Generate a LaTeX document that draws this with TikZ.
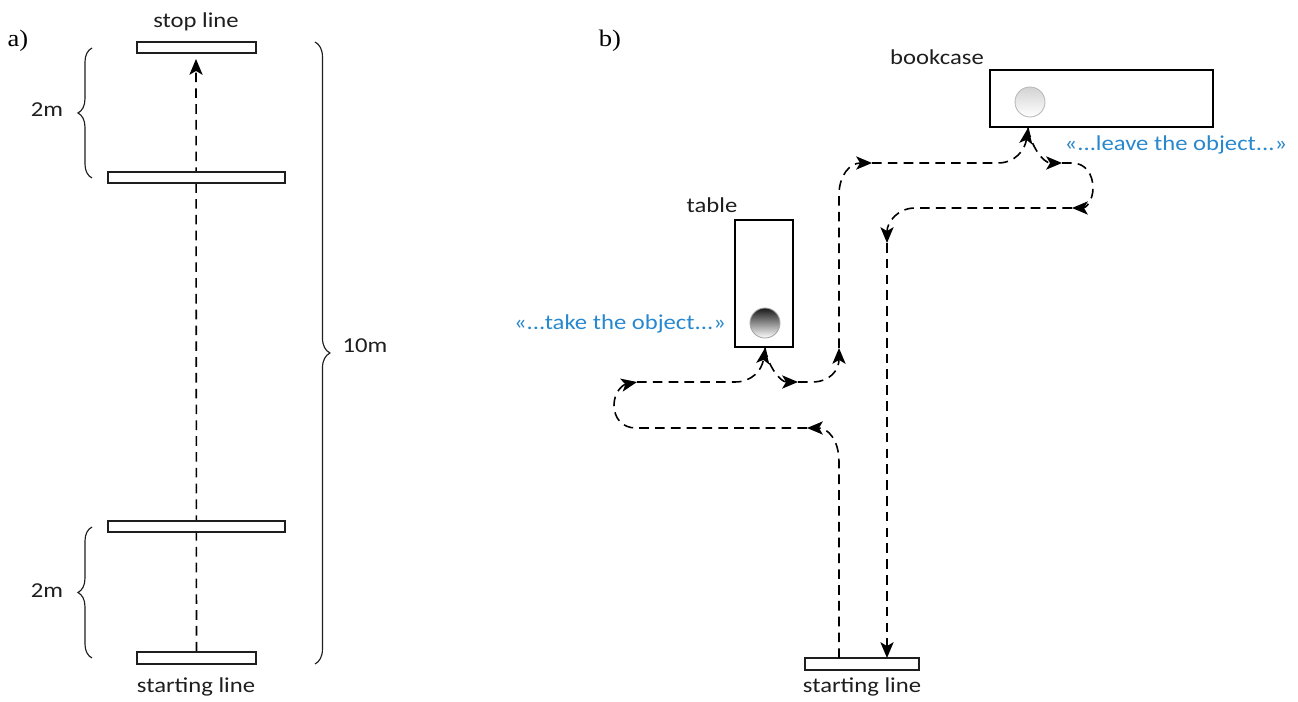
\documentclass[tikz,border=0pt]{standalone}
\usepackage{fontspec}
\setmainfont{Liberation Serif}
\newfontfamily\labfont[FakeStretch=1.16]{Carlito}
\newfontfamily\panfont[FakeStretch=1.12]{Liberation Serif}
\usetikzlibrary{arrows.meta,decorations.pathreplacing,backgrounds}
\definecolor{inkgray}{RGB}{30,30,30}
\definecolor{quoteblue}{RGB}{40,136,206}
\tikzset{
  lab/.style={font=\labfont\fontsize{12.1}{14}\selectfont, text=inkgray, inner sep=0pt, anchor=base},
  quote/.style={lab, text=quoteblue},
  panel/.style={font=\panfont\fontsize{13.5}{15}\selectfont, inner sep=0pt, anchor=base},
  bar/.style={draw=inkgray, fill=white, line width=0.65pt, rectangle, inner sep=0pt, minimum height=0.22cm},
  furn/.style={draw=black, fill=white, line width=0.65pt, rectangle, inner sep=0pt},
  ball/.style={circle, inner sep=0pt, minimum size=0.6cm, line width=0.5pt, shading angle=45},
  walk/.style={line width=0.9pt, dash pattern=on 5.5pt off 3.5pt, -{Stealth[length=9pt,width=7.5pt,inset=2.2pt]}},
  curly/.style={draw=inkgray, line width=0.65pt, decorate},
}
\begin{document}
\begin{tikzpicture}[x=0.02cm, y=-0.02cm]
\useasboundingbox (0,0) rectangle (1298,702);

% ---------- a) straight walk ----------
\node[panel] (la) at (18,47) {a)};
\node[bar, minimum width=2.38cm] (stopbar) at (196.5,47.5) {};
\node[bar, minimum width=3.54cm] (upperbar) at (196.5,177.5) {};
\node[bar, minimum width=3.54cm] (lowerbar) at (196.5,526.5) {};
\node[bar, minimum width=2.38cm, minimum height=0.24cm] (startbara) at (196.5,658) {};
\node[lab] (stoplab) at (196,28) {stop line};
\node[lab] (startlaba) at (196,692) {starting line};

\coordinate (aend) at (196,59);
\begin{scope}[on background layer]
  \draw[walk] (startbara.north) -- (aend);
\end{scope}

% distance braces
\draw[curly, decoration={brace, amplitude=8pt}] (92,178) -- (92,48);
\draw[curly, decoration={brace, amplitude=8pt}] (92,658) -- (92,527);
\draw[curly, decoration={brace, amplitude=8.5pt}] (315,42) -- (315,664);
\node[lab] (d1) at (47,117) {2m};
\node[lab] (d2) at (47,597) {2m};
\node[lab] (d3) at (365,353) {10m};

% ---------- b) walk with object transfer ----------
\node[panel] (lb) at (610,47) {b)};
\node[furn, minimum width=4.46cm, minimum height=1.14cm] (bookcase) at (1101.5,98.5) {};
\node[furn, minimum width=1.16cm, minimum height=2.54cm] (table) at (764,283.5) {};
\node[bar, minimum width=2.28cm, minimum height=0.24cm] (startbarb) at (862,664) {};
\node[ball, draw=gray!70, top color=gray!20!black, bottom color=white] (objtable) at (765,323) {};
\node[ball, draw=gray!55, top color=gray!35, bottom color=white] (objshelf) at (1030,102) {};

\node[lab] (booklab) at (937,65) {bookcase};
\node[lab] (tablelab) at (712,213) {table};
\node[lab] (startlabb) at (862,692) {starting line};
\node[quote] (leave) at (1176,151) {«...leave the object...»};
\node[quote] (take) at (620,330) {«...take the object...»};

% way points of the route
\coordinate (w1) at (839,658);
\coordinate (w2) at (807,428);
\coordinate (w3) at (637,382);
\coordinate (tb) at (765,348);
\coordinate (w4) at (798,382);
\coordinate (w5) at (839,348);
\coordinate (w6) at (872,163);
\coordinate (bb) at (1028,128);
\coordinate (w7) at (1062,163);
\coordinate (w8) at (1072,208);
\coordinate (w9) at (887,243);
\coordinate (w10) at (887,658);

\draw[walk] (w1) -- (839,462) .. controls (839,440) and (828,428) .. (w2);
\draw[walk] (w2) -- (636,428) .. controls (622,428) and (614,418) .. (614,405)
            .. controls (614,393) and (622,385) .. (w3);
\draw[walk] (w3) -- (735,382) .. controls (752,382) and (762,370) .. (tb);
\draw[walk] (tb) .. controls (768,366) and (780,382) .. (w4);
\draw[walk] (w4) -- (812,382) .. controls (830,382) and (839,370) .. (w5);
\draw[walk] (w5) -- (839,195) .. controls (839,175) and (850,163) .. (w6);
\draw[walk] (w6) -- (998,163) .. controls (1015,163) and (1025,150) .. (bb);
\draw[walk] (bb) .. controls (1031,146) and (1043,163) .. (w7);
\draw[walk] (w7) -- (1072,163) .. controls (1086,163) and (1093,175) .. (1093,188)
            .. controls (1093,200) and (1086,208) .. (w8);
\draw[walk] (w8) -- (915,208) .. controls (898,208) and (887,222) .. (w9);
\draw[walk] (w9) -- (w10);
\end{tikzpicture}
\end{document}
